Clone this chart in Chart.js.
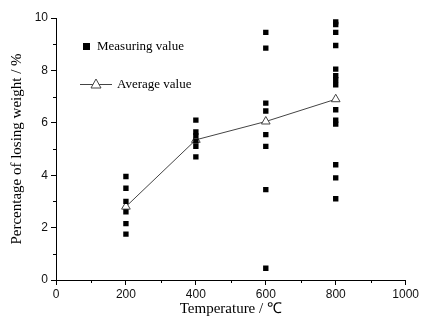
<!DOCTYPE html>
<html>
<head>
<meta charset="utf-8">
<script src="https://cdn.jsdelivr.net/npm/chart.js@4.4.1/dist/chart.umd.min.js"></script>
<style>
  html, body { margin: 0; padding: 0; background: #fff; }
  #wrap { width: 421px; height: 325px; position: relative; }
</style>
</head>
<body>
<div id="wrap"><canvas id="lossChart" width="421" height="325"></canvas></div>
<script>
// measured loss of weight (%) at each temperature
const temps = [200, 400, 600, 800];
const measured200 = [3.95, 3.5, 3.0, 2.6, 2.15, 1.75];
const measured400 = [6.1, 5.65, 5.5, 5.3, 5.1, 4.7];
const measured600 = [9.45, 8.85, 6.75, 6.45, 5.55, 5.1, 3.45, 0.45];
const measured800 = [9.85, 9.75, 9.45, 8.95, 8.05, 7.8, 7.65, 7.45, 6.5, 6.1, 5.95, 4.4, 3.9, 3.1];
const averages = [2.8, 5.35, 6.05, 6.9];
const xTicks = [0, 200, 400, 600, 800, 1000];
const yTicks = [0, 2, 4, 6, 8, 10];

const measuredPts = [];
[measured200, measured400, measured600, measured800].forEach((vals, i) => {
    vals.forEach(v => measuredPts.push({ x: temps[i], y: v }));
});
const avgPts = temps.map((t, i) => ({ x: t, y: averages[i] }));

// short minor ticks between the labelled ones
const minorTicks = {
    id: "minorTicks",
    afterDraw(chart) {
        const ctx = chart.ctx;
        const xs = chart.scales.x, ys = chart.scales.y;
        ctx.save();
        ctx.strokeStyle = "#000";
        ctx.lineWidth = 1;
        ctx.beginPath();
        for (let v = 100; v < 1000; v += 200) {
            const px = Math.round(xs.getPixelForValue(v)) + 0.5;
            ctx.moveTo(px, xs.top);
            ctx.lineTo(px, xs.top + 3);
        }
        for (let v = 1; v < 10; v += 2) {
            const py = Math.round(ys.getPixelForValue(v)) + 0.5;
            ctx.moveTo(ys.right, py);
            ctx.lineTo(ys.right - 3, py);
        }
        ctx.stroke();
        ctx.restore();
    }
};

// legend drawn inside the plot, top-left
const innerLegend = {
    id: "innerLegend",
    afterDraw(chart) {
        const ctx = chart.ctx;
        const a = chart.chartArea;
        const x0 = a.left + 24, y1 = a.top + 28, y2 = a.top + 66;
        ctx.save();
        ctx.font = "13px 'Liberation Serif', 'Times New Roman', serif";
        ctx.fillStyle = "#000";
        ctx.textBaseline = "middle";
        ctx.fillRect(x0 + 3, y1 - 3, 7, 7);
        ctx.fillText("Measuring value", x0 + 17, y1 + 1);
        ctx.strokeStyle = "#444";
        ctx.lineWidth = 1;
        ctx.beginPath();
        ctx.moveTo(x0, y2 + 0.5);
        ctx.lineTo(x0 + 32, y2 + 0.5);
        ctx.stroke();
        ctx.beginPath();
        ctx.moveTo(x0 + 16, y2 - 5);
        ctx.lineTo(x0 + 21, y2 + 4);
        ctx.lineTo(x0 + 11, y2 + 4);
        ctx.closePath();
        ctx.fillStyle = "#fff";
        ctx.fill();
        ctx.stroke();
        ctx.fillStyle = "#000";
        ctx.fillText("Average value", x0 + 37, y2 + 1);
        ctx.restore();
    }
};

const tickFont = { family: "'Liberation Sans', Arial, sans-serif", size: 12 };
const titleFont = { family: "'Liberation Serif', 'Times New Roman', serif", size: 15 };

new Chart(document.getElementById("lossChart"), {
    type: "scatter",
    data: {
        datasets: [{
            label: "Measuring value",
            data: measuredPts,
            pointStyle: "rect",
            radius: 3.8,
            backgroundColor: "#000",
            borderColor: "#000",
            borderWidth: 0,
            showLine: false
        }, {
            label: "Average value",
            data: avgPts,
            showLine: true,
            borderColor: "#444",
            borderWidth: 1,
            pointStyle: "triangle",
            radius: 5,
            pointBackgroundColor: "#fff",
            pointBorderColor: "#444",
            pointBorderWidth: 1
        }]
    },
    options: {
        responsive: false,
        animation: false,
        layout: { padding: { top: 18, right: 15, left: 0, bottom: 0 } },
        plugins: { legend: { display: false }, tooltip: { enabled: false } },
        scales: {
            x: {
                type: "linear",
                min: 0, max: 1000,
                afterFit: s => { s.height = 45; },
                afterBuildTicks: s => { s.ticks = xTicks.map(v => ({ value: v })); },
                grid: { display: true, drawOnChartArea: false, tickLength: 5, color: "#000" },
                border: { display: true, color: "#000", width: 1 },
                ticks: { font: tickFont, color: "#111", padding: 2, maxRotation: 0, callback: v => String(v) },
                title: { display: true, text: "Temperature / ℃", font: titleFont, color: "#000", padding: { top: 0, bottom: 7 } }
            },
            y: {
                type: "linear",
                min: 0, max: 10,
                afterFit: s => { s.width = 56; },
                afterBuildTicks: s => { s.ticks = yTicks.map(v => ({ value: v })); },
                grid: { display: true, drawOnChartArea: false, tickLength: 5, color: "#000" },
                border: { display: true, color: "#000", width: 1 },
                ticks: { font: tickFont, color: "#111", padding: 3, callback: v => String(v) },
                title: { display: true, text: "Percentage of losing weight / %", font: titleFont, color: "#000", padding: { top: 8, bottom: 0 } }
            }
        }
    },
    plugins: [minorTicks, innerLegend]
});
</script>
</body>
</html>
